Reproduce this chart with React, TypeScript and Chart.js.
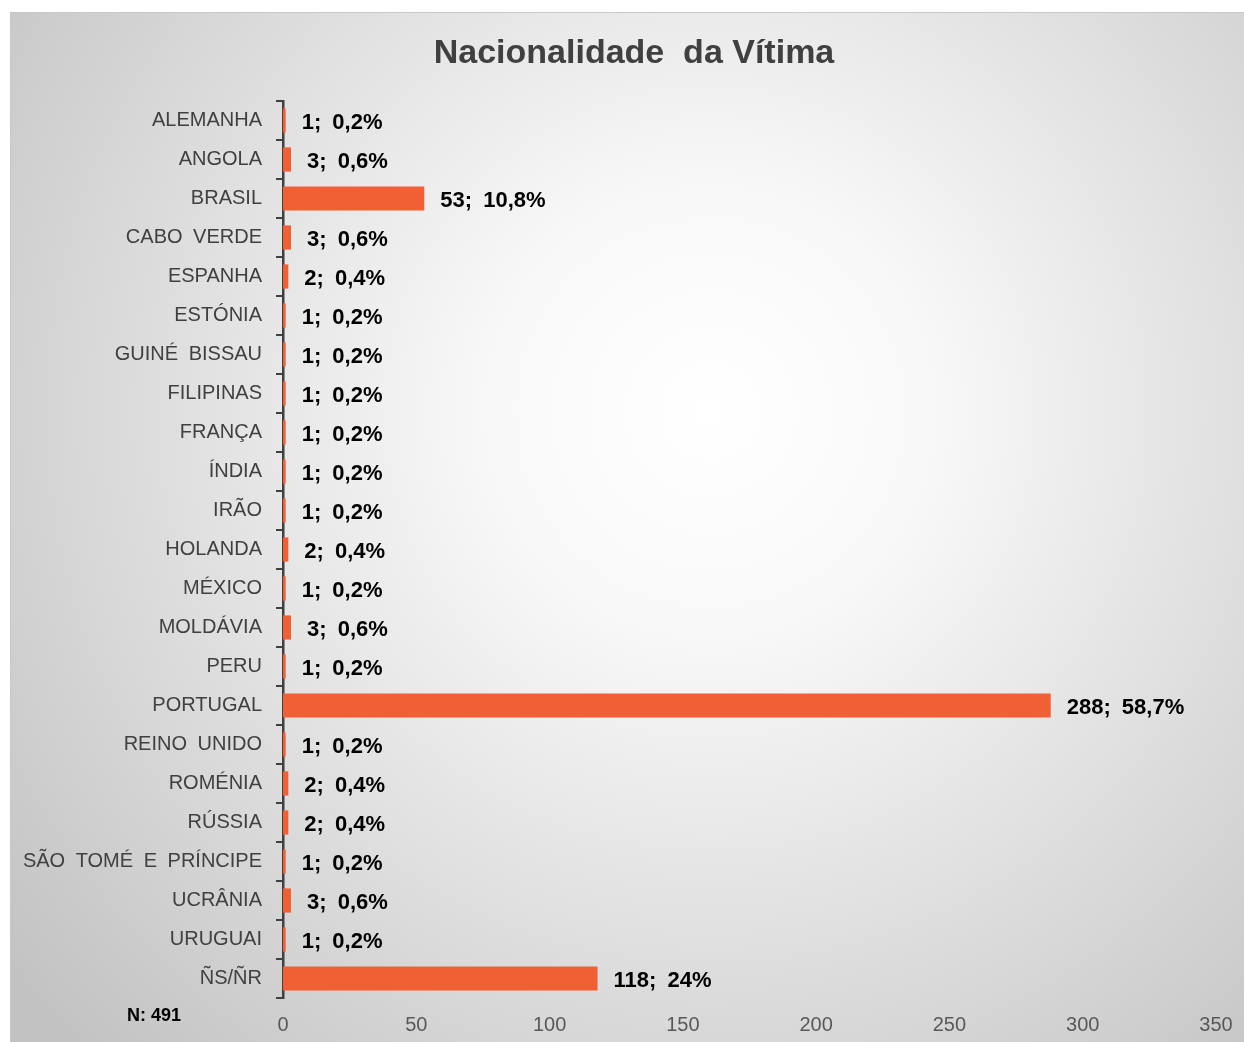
import React, { useEffect, useRef } from "react";
import { Chart, registerables } from "chart.js";

Chart.register(...registerables);

const categories = [
  "ALEMANHA", "ANGOLA", "BRASIL", "CABO VERDE", "ESPANHA", "ESTÓNIA", "GUINÉ BISSAU",
  "FILIPINAS", "FRANÇA", "ÍNDIA", "IRÃO", "HOLANDA", "MÉXICO", "MOLDÁVIA", "PERU",
  "PORTUGAL", "REINO UNIDO", "ROMÉNIA", "RÚSSIA", "SÃO TOMÉ E PRÍNCIPE", "UCRÂNIA",
  "URUGUAI", "ÑS/ÑR",
];
const counts = [1, 3, 53, 3, 2, 1, 1, 1, 1, 1, 1, 2, 1, 3, 1, 288, 1, 2, 2, 1, 3, 1, 118];
const percents = [0.2, 0.6, 10.8, 0.6, 0.4, 0.2, 0.2, 0.2, 0.2, 0.2, 0.2, 0.4, 0.2, 0.6, 0.2, 58.7, 0.2, 0.4, 0.4, 0.2, 0.6, 0.2, 24];
const xMin = 0;
const xMax = 350;
const xStep = 50;
const titleText = "Nacionalidade  da Vítima";
const totalText = "N: 491";

const FONT = "'Liberation Sans', Arial, sans-serif";
const W = 1234;
const H = 1030;

const decorPlugin = {
  id: "decor",
  beforeDraw(chart: any) {
    const ctx = chart.ctx;
    ctx.save();
    const g = ctx.createRadialGradient(700, 400, 0, 700, 400, 900);
    g.addColorStop(0, "#ffffff");
    g.addColorStop(0.25, "#f8f8f8");
    g.addColorStop(1, "#c2c2c2");
    ctx.fillStyle = g;
    ctx.fillRect(0, 0, W, H);
    ctx.strokeStyle = "#c8c8c8";
    ctx.lineWidth = 1;
    ctx.strokeRect(0.5, 0.5, W, H);
    ctx.restore();
    (ctx as any).wordSpacing = "5px";
  },
  afterDraw(chart: any) {
    const ctx = chart.ctx;
    ctx.save();
    (ctx as any).wordSpacing = "0px";
    ctx.fillStyle = "#404040";
    ctx.font = `bold 34px ${FONT}`;
    ctx.textAlign = "center";
    ctx.textBaseline = "middle";
    ctx.fillText(titleText, 624, 42);
    ctx.fillStyle = "#000000";
    ctx.font = `bold 18px ${FONT}`;
    ctx.textAlign = "left";
    ctx.fillText(totalText, 117, 1004);
    ctx.restore();
  },
  afterDatasetsDraw(chart: any) {
    const ctx = chart.ctx;
    const meta = chart.getDatasetMeta(0);
    ctx.save();
    (ctx as any).wordSpacing = "5px";
    ctx.fillStyle = "#000000";
    ctx.font = `bold 22px ${FONT}`;
    ctx.textAlign = "left";
    ctx.textBaseline = "middle";
    meta.data.forEach((bar: any, i: number) => {
      const label = `${counts[i]}; ${String(percents[i]).replace(".", ",")}%`;
      ctx.fillText(label, bar.x + 16, bar.y + 2);
    });
    ctx.restore();
  },
};

export default function App() {
  const ref = useRef<HTMLCanvasElement>(null);
  useEffect(() => {
    if (!ref.current) return;
    const chart = new Chart(ref.current, {
      type: "bar",
      data: {
        labels: categories,
        datasets: [
          {
            data: counts,
            backgroundColor: "#F06034",
            borderWidth: 0,
            barPercentage: 0.62,
            categoryPercentage: 1,
          },
        ],
      },
      options: {
        indexAxis: "y",
        responsive: false,
        animation: false,
        layout: { padding: { top: 89, right: 28, left: 0, bottom: 0 } },
        plugins: {
          legend: { display: false },
          title: { display: false },
          tooltip: { enabled: false },
        },
        scales: {
          x: {
            min: xMin,
            max: xMax,
            ticks: {
              stepSize: xStep,
              color: "#595959",
              font: { family: FONT, size: 20 },
              padding: 10,
            },
            grid: { display: false, drawTicks: true, tickLength: 5 },
            border: { display: false },
            afterFit(scale: any) {
              scale.height = 44;
            },
          },
          y: {
            ticks: {
              color: "#404040",
              font: { family: FONT, size: 20 },
              padding: 14,
              autoSkip: false,
            },
            grid: {
              display: true,
              drawOnChartArea: false,
              drawTicks: true,
              tickLength: 7,
              color: "#404040",
              lineWidth: 2,
              offset: true,
            },
            border: { display: true, color: "#404040", width: 2.5 },
            afterFit(scale: any) {
              scale.width = 273;
            },
          },
        },
      },
      plugins: [decorPlugin],
    });
    return () => chart.destroy();
  }, []);
  return (
    <div style={{ position: "absolute", left: 10, top: 12, width: W, height: H }}>
      <canvas ref={ref} width={W} height={H} style={{ display: "block" }} />
    </div>
  );
}
